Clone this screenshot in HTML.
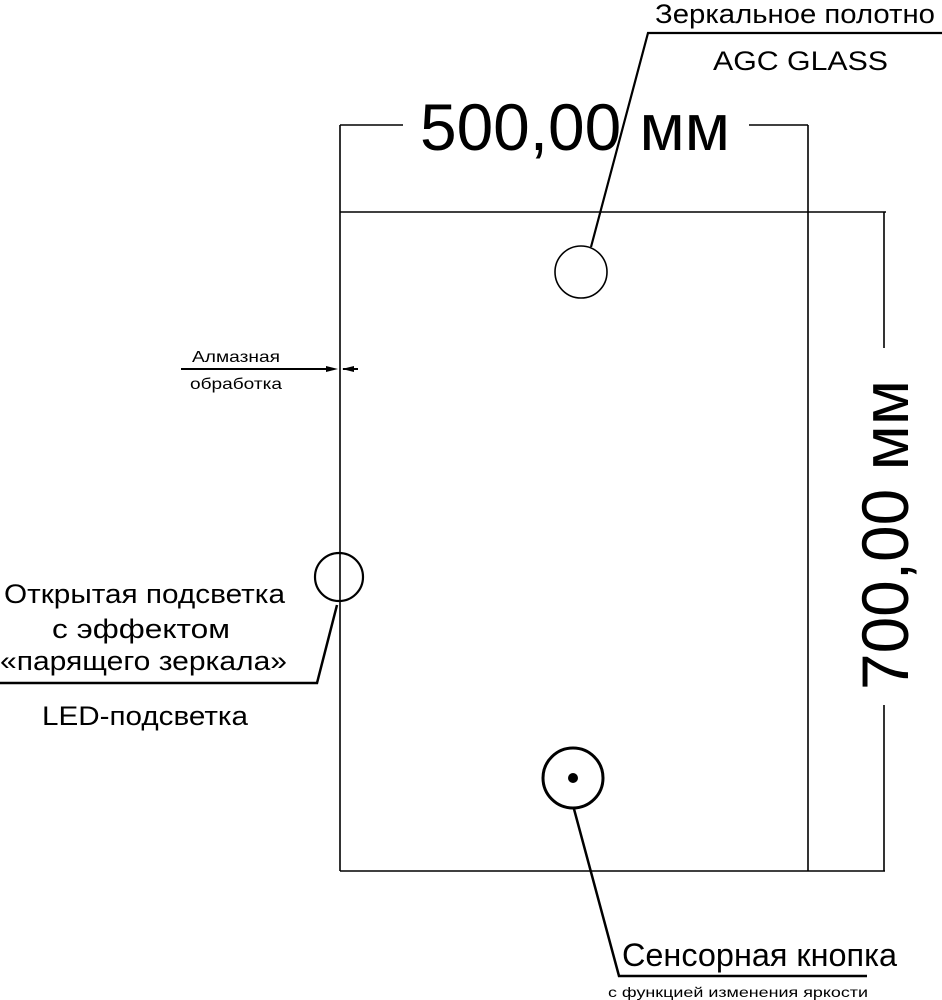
<!DOCTYPE html>
<html><head><meta charset="utf-8"><style>
html,body{margin:0;padding:0;background:#fff;}
svg{display:block;}
text{font-family:"Liberation Sans",Arial,sans-serif;fill:#000;}
</style></head><body>
<svg width="942" height="1000" viewBox="0 0 942 1000" xmlns="http://www.w3.org/2000/svg">
<g stroke="#000" fill="none" stroke-width="1.6">
<line x1="340" y1="125" x2="340" y2="871"/>
<line x1="340" y1="212" x2="886" y2="212"/>
<line x1="808" y1="125" x2="808" y2="871"/>
<line x1="340" y1="871" x2="885" y2="871"/>
<line x1="340" y1="125" x2="403" y2="125"/>
<line x1="749" y1="125" x2="808" y2="125"/>
<line x1="884" y1="212" x2="884" y2="348"/>
<line x1="884" y1="705" x2="884" y2="871"/>
<circle cx="581" cy="272" r="26"/>
<polyline points="591,247 648,33 942,33" stroke-width="2.2"/>
<circle cx="339" cy="577" r="24" stroke-width="2.2"/>
<polyline points="337,605 317,683 0,683" stroke-width="2.5"/>
<circle cx="573" cy="778" r="30" stroke-width="3"/>
<polyline points="574,809 619,976 867,976" stroke-width="2.5"/>
<line x1="181" y1="369" x2="330" y2="369" stroke-width="2"/>
<line x1="343" y1="369" x2="358" y2="369" stroke-width="2"/>
</g>
<circle cx="573" cy="778" r="5" fill="#000"/>
<polygon points="338,369 326,366 326,372" fill="#000"/>
<polygon points="342,369 354,366 354,372" fill="#000"/>
<text x="420" y="150" font-size="66" textLength="310" lengthAdjust="spacingAndGlyphs">500,00 мм</text>
<text transform="translate(908,535) rotate(-90)" text-anchor="middle" font-size="66" textLength="310" lengthAdjust="spacingAndGlyphs">700,00 мм</text>
<text x="655" y="23" font-size="27" textLength="280" lengthAdjust="spacingAndGlyphs">Зеркальное  полотно</text>
<text x="713" y="70" font-size="27" textLength="175" lengthAdjust="spacingAndGlyphs">AGC GLASS</text>
<text x="192" y="362" font-size="16" textLength="88" lengthAdjust="spacingAndGlyphs">Алмазная</text>
<text x="190" y="389" font-size="16" textLength="92" lengthAdjust="spacingAndGlyphs">обработка</text>
<text x="4" y="603" font-size="27" textLength="281" lengthAdjust="spacingAndGlyphs">Открытая подсветка</text>
<text x="52" y="638" font-size="27" textLength="178" lengthAdjust="spacingAndGlyphs">с эффектом</text>
<text x="0" y="670" font-size="27" textLength="287" lengthAdjust="spacingAndGlyphs">«парящего зеркала»</text>
<text x="42" y="725" font-size="27" textLength="206" lengthAdjust="spacingAndGlyphs">LED-подсветка</text>
<text x="622" y="966" font-size="32" textLength="275" lengthAdjust="spacingAndGlyphs">Сенсорная кнопка</text>
<text x="608" y="997" font-size="14" textLength="260" lengthAdjust="spacingAndGlyphs">с функцией изменения яркости</text>
</svg>
</body></html>
